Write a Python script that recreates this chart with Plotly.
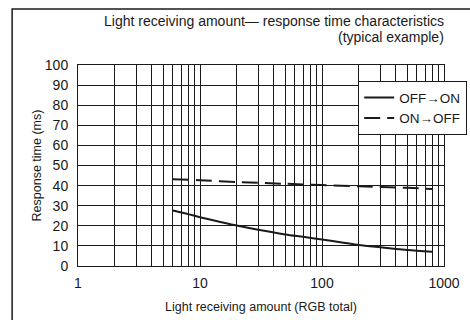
import plotly.graph_objects as go

# data
x_on = [6, 8, 10, 15, 20, 30, 50, 70, 100, 150, 200, 300, 500, 800]
off_on = [27.6, 25.8, 24.3, 21.8, 20.1, 18.0, 15.7, 14.5, 13.2, 11.6, 10.4, 9.3, 8.0, 7.1]
x_off = [6, 10, 20, 50, 100, 200, 500, 800]
on_off = [43.2, 42.7, 41.8, 40.9, 40.3, 39.7, 38.9, 38.3]
series_names = ["OFF\u2192ON", "ON\u2192OFF"]
x_major = [1, 10, 100, 1000]
x_minor = [m * d for d in (1, 10, 100) for m in range(2, 10)]
y_ticks = list(range(0, 101, 10))
title_lines = ["Light receiving amount\u2014 response time characteristics", "(typical example)"]

FONT = "Liberation Sans, Arial, sans-serif"
INK = "#1a1a1a"

fig = go.Figure()
fig.add_trace(go.Scatter(x=x_on, y=off_on, mode="lines", name=series_names[0],
                         line=dict(color=INK, width=2, shape="spline", smoothing=0.8)))
fig.add_trace(go.Scatter(x=x_off, y=on_off, mode="lines", name=series_names[1],
                         line=dict(color=INK, width=2, dash="16px,7px", shape="spline", smoothing=0.8)))

fig.update_layout(
    width=470, height=320,
    margin=dict(l=78, r=26, t=65, b=54, autoexpand=False),
    paper_bgcolor="white", plot_bgcolor="white",
    font=dict(family=FONT, color=INK, size=12),
    showlegend=True,
    legend=dict(x=(358 - 78) / 366, y=(266 - 81) / 201, xanchor="left", yanchor="top",
                bgcolor="white", bordercolor=INK, borderwidth=1.2,
                font=dict(size=13.5, family=FONT, color=INK),
                tracegroupgap=0, itemwidth=30),
)

fig.update_xaxes(
    type="log", range=[0, 3], automargin=False,
    tickmode="array", tickvals=x_major, ticktext=[str(v) for v in x_major],
    tickfont=dict(size=14), ticks="", ticklabelstandoff=4,
    showgrid=True, gridcolor=INK, gridwidth=1,
    minor=dict(tickmode="array", tickvals=x_minor, showgrid=True, gridcolor=INK, gridwidth=1, ticks=""),
    showline=True, linecolor=INK, linewidth=1, mirror=True,
    zeroline=False,
    title=dict(text="Light receiving amount (RGB total)", font=dict(size=12.5), standoff=12),
)
fig.update_yaxes(
    range=[0, 100], tickmode="array", tickvals=y_ticks, automargin=False,
    tickfont=dict(size=14), ticks="", ticklabelstandoff=6,
    showgrid=True, gridcolor=INK, gridwidth=1,
    showline=True, linecolor=INK, linewidth=1, mirror=True,
    zeroline=False,
    title=dict(text="Response time (ms)", font=dict(size=12.5), standoff=0),
)

# outer frame
fig.add_shape(type="rect", xref="paper", yref="paper",
              x0=-0.180, x1=1.2, y0=-0.5, y1=(266 - 9) / 201,
              line=dict(color=INK, width=1.5), fillcolor="rgba(0,0,0,0)", layer="below")

for txt, yc in zip(title_lines, (21, 37)):
    fig.add_annotation(text=txt, xref="paper", yref="paper",
                       x=(446 - 78) / 366, y=(266 - yc) / 201, xanchor="right", yanchor="middle",
                       showarrow=False, font=dict(size=14, family=FONT, color=INK))

fig.write_html("out.html", config={"displayModeBar": False},
               post_script="document.body.style.margin='0';document.body.style.padding='0';")
